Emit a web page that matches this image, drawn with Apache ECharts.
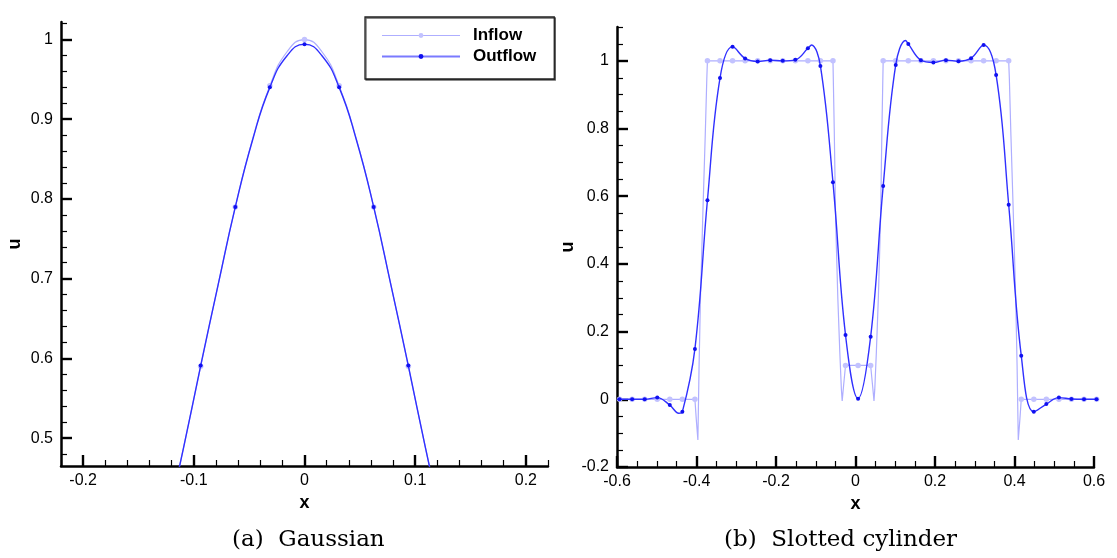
<!DOCTYPE html>
<html><head><meta charset="utf-8">
<script src="https://cdn.jsdelivr.net/npm/echarts@6/dist/echarts.min.js"></script>
<style>html,body{margin:0;padding:0;background:#fff}#c{width:1117px;height:558px}</style>
</head><body><div id="c"></div>
<script>
// ---------- (a) Gaussian ----------
const gaussX   = [-0.125, -0.1094, -0.0938, -0.0781, -0.0625, -0.0469, -0.0313, -0.0156, 0, 0.0156, 0.0313, 0.0469, 0.0625, 0.0781, 0.0938, 0.1094, 0.125];
const gaussIn  = [0.390, 0.487, 0.590, 0.692, 0.790, 0.875, 0.942, 0.985, 1.000, 0.985, 0.942, 0.875, 0.790, 0.692, 0.590, 0.487, 0.390];
const gaussOut = [0.389, 0.487, 0.591, 0.692, 0.790, 0.874, 0.940, 0.980, 0.994, 0.980, 0.940, 0.874, 0.790, 0.692, 0.591, 0.487, 0.389];
const gaussMarkX = [-0.125, -0.0938, -0.0625, -0.0313, 0, 0.0313, 0.0625, 0.0938, 0.125];

// ---------- (b) Slotted cylinder ----------
const slotX = [-0.5935, -0.5619, -0.5303, -0.4988, -0.4672, -0.4356, -0.4040, -0.3725, -0.3409, -0.3093,
  -0.2777, -0.2461, -0.2146, -0.1830, -0.1514, -0.1198, -0.0883, -0.0567, -0.0251, 0.0065,
  0.0381, 0.0696, 0.1012, 0.1328, 0.1644, 0.1959, 0.2275, 0.2591, 0.2907, 0.3223,
  0.3538, 0.3854, 0.4170, 0.4486, 0.4801, 0.5117, 0.5433, 0.5749, 0.6065];
const slotIn = [0, 0, 0, 0, 0, 0, 0, 1, 1, 1,
  1, 1, 1, 1, 1, 1, 1, 1, 0.1, 0.1,
  0.1, 1, 1, 1, 1, 1, 1, 1, 1, 1,
  1, 1, 0, 0, 0, 0, 0, 0, 0];
const slotOut = [0, 0, 0, 0.005, -0.017, -0.037, 0.149, 0.588, 0.949, 1.042,
  1.007, 0.998, 1.002, 1.0, 1.003, 1.037, 0.985, 0.641, 0.19, 0.002,
  0.185, 0.63, 0.988, 1.05, 1.002, 0.995, 1.002, 0.999, 1.008, 1.047,
  0.958, 0.575, 0.129, -0.037, -0.014, 0.005, 0.001, 0, 0];
// extra curve points between markers
const slotOutExtraX = [-0.6, -0.4445, -0.1107, 0.1258];
const slotOutExtraU = [0, -0.041, 1.047, 1.06];
const slotInExtraX = [-0.6, -0.4005, -0.3965, -0.3935, -0.390, -0.384, -0.378, -0.374,
  -0.0535, -0.050, -0.0445, -0.0395, -0.0355, -0.0335, -0.030,
  0.043, 0.0465, 0.0485, 0.0525, 0.0575, 0.063, 0.0665,
  0.387, 0.391, 0.397, 0.403, 0.4065, 0.4095, 0.4135, 0.6];
const slotInExtraU = [0, -0.06, -0.12, 0.1, 0.3, 0.55, 0.78, 0.95,
  0.8, 0.53, 0.3, 0.14, 0.03, -0.005, 0.04,
  0.04, -0.005, 0.03, 0.14, 0.3, 0.53, 0.8,
  0.95, 0.78, 0.55, 0.3, 0.1, -0.12, -0.06, 0];

// ---------- ticks ----------
const gaussXTicks = [-0.2, -0.1, 0, 0.1, 0.2];
const gaussUTicks = [0.5, 0.6, 0.7, 0.8, 0.9, 1];
const slotXTicks = [-0.6, -0.4, -0.2, 0, 0.2, 0.4, 0.6];
const slotUTicks = [-0.2, 0, 0.2, 0.4, 0.6, 0.8, 1];

function minor(a, b, step, majors) {
  const out = [];
  const n = Math.round((b - a) / step);
  for (let i = 0; i <= n; i++) {
    const v = +(a + i * step).toFixed(4);
    if (!majors.some(m => Math.abs(m - v) < 1e-6)) out.push(v);
  }
  return out;
}
function zip(xs, ys) { return xs.map((x, i) => [x, ys[i]]); }
function merge(xs, ys, ex, ey) { return zip(xs, ys).concat(zip(ex, ey)).sort((p, q) => p[0] - q[0]); }

const IN_C = '#aeaeff', IN_M = '#c2c2ff', OUT_C = '#3030ff', OUT_M = '#1010f0';
const FONT = 'Liberation Sans';
const lab = { fontFamily: FONT, fontSize: 16, color: '#000' };

function mainAxis(gridIndex, min, max, ticks, isY, name, gap) {
  return {
    type: 'value', gridIndex, min, max, name,
    position: isY ? 'left' : 'bottom',
    nameLocation: 'middle', nameGap: gap,
    nameTextStyle: { fontFamily: FONT, fontSize: 18, fontWeight: 'bold', color: '#000' },
    axisLine: { show: true, onZero: false, lineStyle: { color: '#000', width: 2.5 } },
    axisTick: { show: false },
    axisLabel: Object.assign({ customValues: ticks, margin: isY ? 8 : 7 }, lab),
    splitLine: { show: false }
  };
}
function tickAxis(gridIndex, min, max, ticks, isY, len, w) {
  return {
    type: 'value', gridIndex, min, max,
    position: isY ? 'left' : 'bottom', offset: 0,
    axisLine: { show: false, onZero: false },
    axisTick: { show: true, inside: true, length: len, customValues: ticks, lineStyle: { color: '#000', width: w } },
    axisLabel: { show: false }, splitLine: { show: false }
  };
}

const gxMin = -0.22, gxMax = 0.22, guMin = 0.465, guMax = 1.022;
const sxMin = -0.6, sxMax = 0.6, suMin = -0.2, suMax = 1.1;

const option = {
  animation: false,
  backgroundColor: '#fff',
  grid: [
    { left: 61, top: 22, right: 569, bottom: 92, containLabel: false },
    { left: 617, top: 27, right: 23, bottom: 91, containLabel: false }
  ],
  xAxis: [
    mainAxis(0, gxMin, gxMax, gaussXTicks, false, 'x', 7),
    tickAxis(0, gxMin, gxMax, gaussXTicks, false, 11, 2.4),
    tickAxis(0, gxMin, gxMax, minor(-0.22, 0.22, 0.02, gaussXTicks), false, 6, 1.2),
    mainAxis(1, sxMin, sxMax, slotXTicks, false, 'x', 7),
    tickAxis(1, sxMin, sxMax, slotXTicks, false, 11, 2.4),
    tickAxis(1, sxMin, sxMax, minor(-0.6, 0.6, 0.05, slotXTicks), false, 6, 1.2)
  ],
  yAxis: [
    mainAxis(0, guMin, guMax, gaussUTicks, true, 'u', 37),
    tickAxis(0, guMin, guMax, gaussUTicks, true, 11, 2.4),
    tickAxis(0, guMin, guMax, minor(0.48, 1.02, 0.02, gaussUTicks), true, 6, 1.2),
    mainAxis(1, suMin, suMax, slotUTicks, true, 'u', 36),
    tickAxis(1, suMin, suMax, slotUTicks, true, 11, 2.4),
    tickAxis(1, suMin, suMax, minor(-0.2, 1.1, 0.05, slotUTicks), true, 6, 1.2)
  ],
  legend: {
    data: [
      { name: 'Inflow', lineStyle: { color: IN_C, width: 1.2 }, itemStyle: { color: IN_M } },
      { name: 'Outflow', lineStyle: { color: '#7a7aff', width: 2 }, itemStyle: { color: OUT_M } }
    ],
    orient: 'vertical', left: 365, top: 17,
    padding: [10, 18, 14, 16],
    itemWidth: 78, itemHeight: 6, itemGap: 4,
    selectedMode: false,
    backgroundColor: '#fff', borderColor: '#222', borderWidth: 1.3,
    shadowColor: 'rgba(0,0,0,0.6)', shadowBlur: 0, shadowOffsetX: 1, shadowOffsetY: 1,
    textStyle: { fontFamily: FONT, fontSize: 17, fontWeight: 'bold', color: '#000', lineHeight: 17, padding: [0, 0, 0, 8] }
  },
  series: [
    { name: 'Inflow', type: 'line', xAxisIndex: 0, yAxisIndex: 0, data: zip(gaussX, gaussIn), smooth: true,
      showSymbol: false, symbol: 'circle', lineStyle: { color: IN_C, width: 1.2 }, itemStyle: { color: IN_M }, z: 2 },
    { name: 'Outflow', type: 'line', xAxisIndex: 0, yAxisIndex: 0, data: zip(gaussX, gaussOut), smooth: true,
      showSymbol: false, symbol: 'circle', lineStyle: { color: OUT_C, width: 1.4 }, itemStyle: { color: OUT_M }, z: 4 },
    { name: 'in-pts-a', type: 'scatter', xAxisIndex: 0, yAxisIndex: 0,
      data: zip(gaussX, gaussIn).filter(p => gaussMarkX.includes(p[0])), symbolSize: 5.5, itemStyle: { color: IN_M, opacity: 1 }, z: 3 },
    { name: 'out-pts-a', type: 'scatter', xAxisIndex: 0, yAxisIndex: 0,
      data: zip(gaussX, gaussOut).filter(p => gaussMarkX.includes(p[0])), symbolSize: 4, itemStyle: { color: OUT_M, opacity: 1 }, z: 5 },

    { name: 'in-b', type: 'line', xAxisIndex: 3, yAxisIndex: 3, data: merge(slotX, slotIn, slotInExtraX, slotInExtraU),
      showSymbol: false, lineStyle: { color: IN_C, width: 1.2 }, z: 2 },
    { name: 'out-b', type: 'line', xAxisIndex: 3, yAxisIndex: 3, data: merge(slotX, slotOut, slotOutExtraX, slotOutExtraU),
      smooth: 0.4, showSymbol: false, lineStyle: { color: OUT_C, width: 1.4 }, z: 4 },
    { name: 'in-pts-b', type: 'scatter', xAxisIndex: 3, yAxisIndex: 3, clip: false,
      data: zip(slotX, slotIn), symbolSize: 5.5, itemStyle: { color: IN_M, opacity: 1 }, z: 3 },
    { name: 'out-pts-b', type: 'scatter', xAxisIndex: 3, yAxisIndex: 3, clip: false,
      data: zip(slotX, slotOut), symbolSize: 4, itemStyle: { color: OUT_M, opacity: 1 }, z: 5 }
  ],
  graphic: [
    { type: 'text', left: 232, top: 529, style: { text: '(a)  Gaussian', font: '23px "DejaVu Serif"', fill: '#000' } },
    { type: 'text', left: 724, top: 529, style: { text: '(b)  Slotted cylinder', font: '23px "DejaVu Serif"', fill: '#000' } }
  ]
};
const chart = echarts.init(document.getElementById('c'), null, { renderer: 'canvas' });
chart.setOption(option);
</script>
</body></html>
